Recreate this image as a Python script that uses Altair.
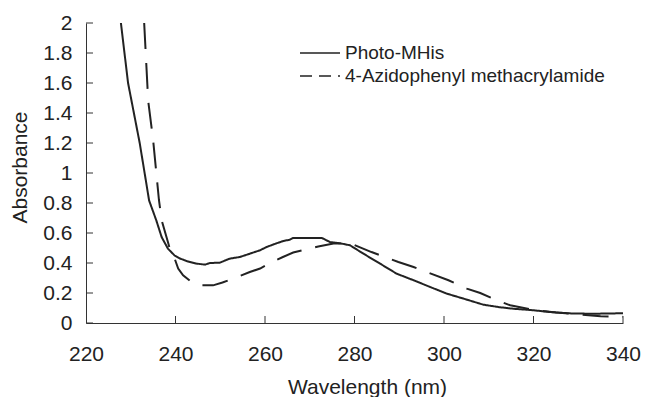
import altair as alt
import pandas as pd

# ---- data ----
series_names = ["Photo-MHis", "4-Azidophenyl methacrylamide"]

wl_photo = [227.8, 229.4, 230.7, 232.0, 233.1, 234.1, 235.7, 236.9, 238.3, 239.8,
            241.0, 242.5, 244.7, 246.6, 247.7, 249.9, 252.1, 254.4, 256.6, 258.9,
            260.4, 262.0, 264.1, 265.5, 266.3, 270.0, 272.7, 274.5, 277.0, 279.0,
            282.0, 285.7, 289.4, 293.2, 296.9, 300.6, 304.3, 308.8, 312.5, 315.5,
            320.0, 323.7, 328.9, 334.0, 340.0]
abs_photo = [2.00, 1.60, 1.40, 1.20, 1.00, 0.817, 0.685, 0.573, 0.496, 0.450,
             0.430, 0.413, 0.396, 0.389, 0.400, 0.402, 0.429, 0.440, 0.462, 0.485,
             0.507, 0.525, 0.547, 0.555, 0.567, 0.567, 0.567, 0.540, 0.530, 0.518,
             0.462, 0.396, 0.329, 0.285, 0.240, 0.196, 0.163, 0.122, 0.105, 0.095,
             0.085, 0.073, 0.063, 0.062, 0.065]

wl_azido = [233.0, 233.9, 235.0, 236.3, 236.9, 238.4, 238.7, 239.8, 240.6, 241.7,
            243.6, 245.4, 248.4, 250.5, 252.9, 256.6, 258.9, 261.8, 264.0, 266.3,
            269.0, 271.9, 275.3, 277.5, 280.0, 283.8, 289.8, 293.2, 301.0, 305.1,
            308.1, 311.8, 314.8, 320.0, 325.0, 330.0, 335.0, 340.0]
abs_azido = [2.00, 1.48, 1.22, 0.82, 0.685, 0.530, 0.496, 0.430, 0.363, 0.318,
             0.273, 0.251, 0.251, 0.270, 0.296, 0.340, 0.363, 0.410, 0.440, 0.470,
             0.490, 0.510, 0.530, 0.530, 0.520, 0.473, 0.407, 0.373, 0.285, 0.229,
             0.200, 0.151, 0.118, 0.088, 0.070, 0.058, 0.045, 0.042]

x_ticks = [220, 240, 260, 280, 300, 320, 340]
y_ticks = [0, 0.2, 0.4, 0.6, 0.8, 1, 1.2, 1.4, 1.6, 1.8, 2]

# ---- build table ----
df = pd.concat([
    pd.DataFrame({"wl": wl_photo, "abs": abs_photo, "series": series_names[0]}),
    pd.DataFrame({"wl": wl_azido, "abs": abs_azido, "series": series_names[1]}),
], ignore_index=True)

W, H = 537, 300
FONT = "Liberation Sans"
INK = "#222222"
AXIS = "#333333"

x_scale = alt.Scale(domain=[220, 340], nice=False, zero=False)
y_scale = alt.Scale(domain=[0, 2], nice=False)

x_axis = alt.Axis(
    values=x_ticks, format="d", title="Wavelength (nm)", grid=False,
    ticks=False, tickSize=0, labelPadding=20, labelFlush=False, labelOverlap=False,
    labelFont=FONT, labelFontSize=21, labelColor=INK,
    titleFont=FONT, titleFontSize=21, titleFontWeight="normal", titleColor=INK,
    titleX=281, titleY=64, titleBaseline="middle",
    domainColor=AXIS, domainWidth=1,
)
y_axis = alt.Axis(
    values=y_ticks, format="~g", title="Absorbance", grid=False,
    ticks=False, tickSize=0, labelPadding=14, labelFlush=False, labelOverlap=False,
    labelFont=FONT, labelFontSize=21, labelColor=INK,
    titleFont=FONT, titleFontSize=21, titleFontWeight="normal", titleColor=INK,
    titleX=-66, titleY=144, titleAngle=270, titleBaseline="middle",
    domainColor=AXIS, domainWidth=1,
)

lines = alt.Chart(df).mark_line(strokeWidth=2, color=INK, clip=True).encode(
    x=alt.X("wl:Q", scale=x_scale, axis=x_axis),
    y=alt.Y("abs:Q", scale=y_scale, axis=y_axis),
    strokeDash=alt.StrokeDash(
        "series:N",
        scale=alt.Scale(domain=series_names, range=[[1, 0], [26, 14]]),
        legend=None,
    ),
    detail="series:N",
)

# inward-pointing ticks
x_tick_marks = alt.Chart(pd.DataFrame({"wl": x_ticks[1:]})).mark_rule(
    color=AXIS, strokeWidth=1
).encode(
    x=alt.X("wl:Q", scale=x_scale, axis=x_axis),
    y=alt.value(H), y2=alt.value(H - 7),
)
y_tick_marks = alt.Chart(pd.DataFrame({"abs": y_ticks})).mark_rule(
    color=AXIS, strokeWidth=1
).encode(
    y=alt.Y("abs:Q", scale=y_scale, axis=y_axis),
    x=alt.value(0), x2=alt.value(7),
)

# legend (manual, top right of plot)
legend_layers = []
dashes = [[1, 0], [12, 7]]
for i, name in enumerate(series_names):
    row_y = 30 + 23 * i
    d = pd.DataFrame({"name": [name]})
    legend_layers.append(
        alt.Chart(d).mark_rule(color=INK, strokeWidth=1.5, strokeDash=dashes[i]).encode(
            x=alt.value(214), x2=alt.value(254), y=alt.value(row_y)
        )
    )
    legend_layers.append(
        alt.Chart(d).mark_text(
            font=FONT, fontSize=19, color=INK, align="left", baseline="middle"
        ).encode(x=alt.value(259), y=alt.value(row_y), text="name:N")
    )

chart = alt.layer(lines, x_tick_marks, y_tick_marks, *legend_layers).properties(
    width=W, height=H,
    autosize=alt.AutoSizeParams(type="none"),
    padding={"left": 86, "top": 23, "right": 22, "bottom": 74},
    background="white",
).configure_view(stroke=None)

chart.save("out.html", embed_options={"renderer": "svg", "actions": False})
